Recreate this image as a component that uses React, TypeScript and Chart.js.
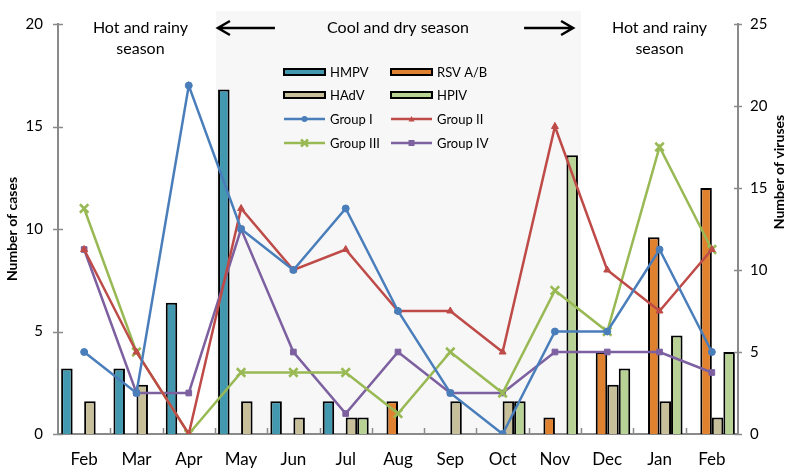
import React, { useEffect, useRef } from 'react';
import { Chart, registerables } from 'chart.js';

Chart.register(...registerables);

const MONTHS = ['Feb', 'Mar', 'Apr', 'May', 'Jun', 'Jul', 'Aug', 'Sep', 'Oct', 'Nov', 'Dec', 'Jan', 'Feb'];

// Bars (right axis: Number of viruses)
const HMPV = [4, 4, 8, 21, 2, 2, 0, 0, 0, 0, 0, 0, 0];
const RSV = [0, 0, 0, 0, 0, 0, 2, 0, 0, 1, 5, 12, 15];
const HADV = [2, 3, 0, 2, 1, 1, 0, 2, 2, 0, 3, 2, 1];
const HPIV = [0, 0, 0, 0, 0, 1, 0, 0, 2, 17, 4, 6, 5];

// Lines (left axis: Number of cases)
const GROUP_I = [4, 2, 17, 10, 8, 11, 6, 2, 0, 5, 5, 9, 4];
const GROUP_II = [9, 4, 0, 11, 8, 9, 6, 6, 4, 15, 8, 6, 9];
const GROUP_III = [11, 4, 0, 3, 3, 3, 1, 4, 2, 7, 5, 14, 9];
const GROUP_IV = [9, 2, 2, 10, 4, 1, 4, 2, 2, 4, 4, 4, 3];

const CASES_MAX = 20;
const VIRUSES_MAX = 25;
const TICK_STEP = 5;

const LEFT_TITLE = 'Number of cases';
const RIGHT_TITLE = 'Number of viruses';
const HOT_LABEL = ['Hot and rainy', 'season'];
const COOL_LABEL = 'Cool and dry season';
const COOL_FIRST = 3; // May
const COOL_LAST = 9; // Nov

const FONT = 'Lato, "Open Sans", sans-serif';
const AXIS_GRAY = '#8a8a8a';

const nz = (arr: number[]) => arr.map((v) => (v === 0 ? null : v));

function drawMarker(ctx: CanvasRenderingContext2D, style: string, x: number, y: number, r: number, color: string) {
  ctx.save();
  ctx.fillStyle = color;
  ctx.strokeStyle = color;
  ctx.beginPath();
  if (style === 'circle') {
    ctx.arc(x, y, r, 0, Math.PI * 2);
    ctx.fill();
  } else if (style === 'triangle') {
    ctx.moveTo(x, y - r);
    ctx.lineTo(x + r, y + r * 0.8);
    ctx.lineTo(x - r, y + r * 0.8);
    ctx.closePath();
    ctx.fill();
  } else if (style === 'rect') {
    ctx.fillRect(x - r, y - r, r * 2, r * 2);
  } else if (style === 'crossRot') {
    ctx.lineWidth = 2.5;
    ctx.moveTo(x - r, y - r);
    ctx.lineTo(x + r, y + r);
    ctx.moveTo(x + r, y - r);
    ctx.lineTo(x - r, y + r);
    ctx.stroke();
  }
  ctx.restore();
}

const decorPlugin = {
  id: 'decor',
  beforeDraw(chart: any) {
    const { ctx, chartArea, scales } = chart;
    const x = scales.x;
    const half = (x.getPixelForValue(1) - x.getPixelForValue(0)) / 2;
    const x0 = x.getPixelForValue(COOL_FIRST) - half;
    const x1 = x.getPixelForValue(COOL_LAST) + half;
    ctx.save();
    ctx.fillStyle = '#f7f7f7';
    ctx.fillRect(x0 + 1, chartArea.top - 13, x1 - x0 - 1, chartArea.bottom - chartArea.top + 12);
    ctx.restore();
  },
  afterDraw(chart: any) {
    const { ctx, chartArea, scales } = chart;
    const x = scales.x;
    const half = (x.getPixelForValue(1) - x.getPixelForValue(0)) / 2;
    const { left, right, top, bottom } = chartArea;

    ctx.save();
    // axis ticks
    ctx.strokeStyle = AXIS_GRAY;
    ctx.lineWidth = 1.5;
    for (let v = 0; v <= CASES_MAX; v += TICK_STEP) {
      const y = Math.round(scales.y.getPixelForValue(v)) + 0.5;
      ctx.beginPath();
      ctx.moveTo(left - 5, y);
      ctx.lineTo(left + 5, y);
      ctx.stroke();
    }
    for (let v = 0; v <= VIRUSES_MAX; v += TICK_STEP) {
      const y = Math.round(scales.y1.getPixelForValue(v)) + 0.5;
      ctx.beginPath();
      ctx.moveTo(right - 4, y);
      ctx.lineTo(right + 4, y);
      ctx.stroke();
    }
    for (let i = 1; i < MONTHS.length; i++) {
      const bx = Math.round(x.getPixelForValue(i) - half) + 0.5;
      ctx.beginPath();
      ctx.moveTo(bx, bottom);
      ctx.lineTo(bx, bottom - 6);
      ctx.stroke();
    }

    // axis titles
    ctx.fillStyle = '#000';
    ctx.font = `bold 14px ${FONT}`;
    ctx.textAlign = 'center';
    ctx.textBaseline = 'middle';
    ctx.save();
    ctx.translate(12, (top + bottom) / 2);
    ctx.rotate(-Math.PI / 2);
    ctx.fillText(LEFT_TITLE, 0, 0);
    ctx.restore();
    ctx.save();
    ctx.translate(779, top + 148);
    ctx.rotate(-Math.PI / 2);
    ctx.fillText(RIGHT_TITLE, 0, 0);
    ctx.restore();

    // season annotations
    ctx.font = `16px ${FONT}`;
    const x0 = x.getPixelForValue(COOL_FIRST) - half;
    const x1 = x.getPixelForValue(COOL_LAST) + half;
    const hx1 = x.getPixelForValue(1) + 4;
    const hx2 = x.getPixelForValue(11);
    ctx.fillText(HOT_LABEL[0], hx1, top + 4);
    ctx.fillText(HOT_LABEL[1], hx1, top + 25);
    ctx.fillText(HOT_LABEL[0], hx2, top + 4);
    ctx.fillText(HOT_LABEL[1], hx2, top + 25);
    ctx.fillText(COOL_LABEL, (x0 + x1) / 2, top + 4);

    // arrows
    ctx.strokeStyle = '#000';
    ctx.lineWidth = 2.5;
    const ay = top + 4;
    const la = x0 + 3;
    ctx.beginPath();
    ctx.moveTo(la + 57, ay);
    ctx.lineTo(la, ay);
    ctx.moveTo(la + 12, ay - 7);
    ctx.lineTo(la, ay);
    ctx.lineTo(la + 12, ay + 7);
    ctx.stroke();
    const ra = x1 - 8;
    ctx.beginPath();
    ctx.moveTo(ra - 49, ay);
    ctx.lineTo(ra, ay);
    ctx.moveTo(ra - 12, ay - 7);
    ctx.lineTo(ra, ay);
    ctx.lineTo(ra - 12, ay + 7);
    ctx.stroke();

    // legend
    const datasets = chart.data.datasets;
    const colX = [left + 226, left + 333];
    const rowY = [top + 48, top + 71, top + 95, top + 119];
    ctx.font = `13px ${FONT}`;
    ctx.textAlign = 'left';
    datasets.forEach((ds: any, i: number) => {
      const cx = colX[i % 2];
      const cy = rowY[Math.floor(i / 2)];
      if (ds.type === 'bar') {
        ctx.fillStyle = ds.backgroundColor;
        ctx.fillRect(cx, cy - 3, 41, 6);
        ctx.strokeStyle = '#000';
        ctx.lineWidth = 2;
        ctx.strokeRect(cx, cy - 3, 41, 6);
      } else {
        ctx.strokeStyle = ds.borderColor;
        ctx.lineWidth = 2.5;
        ctx.beginPath();
        ctx.moveTo(cx, cy);
        ctx.lineTo(cx + 41, cy);
        ctx.stroke();
        drawMarker(ctx, ds.pointStyle, cx + 20.5, cy, ds.pointStyle === 'crossRot' ? 3.5 : 3, ds.borderColor);
      }
      ctx.fillStyle = '#000';
      ctx.fillText(ds.label, cx + 46, cy + 1);
    });
    ctx.restore();
  },
};

export default function App() {
  const ref = useRef<HTMLCanvasElement>(null);

  useEffect(() => {
    document.body.style.margin = '0';
    Chart.defaults.font.family = FONT;
    const barCommon = {
      type: 'bar' as const,
      borderColor: '#000',
      borderWidth: 2,
      yAxisID: 'y1',
      order: 2,
      categoryPercentage: 0.88,
      barPercentage: 1,
    };
    const lineCommon = {
      type: 'line' as const,
      borderWidth: 2.5,
      yAxisID: 'y',
      order: 1,
      tension: 0,
      fill: false,
      pointBorderWidth: 1,
    };
    const chart = new Chart(ref.current!, {
      type: 'bar',
      data: {
        labels: MONTHS,
        datasets: [
          { ...barCommon, label: 'HMPV', data: nz(HMPV), backgroundColor: '#4198af' },
          { ...barCommon, label: 'RSV A/B', data: nz(RSV), backgroundColor: '#e0812f' },
          { ...barCommon, label: 'HAdV', data: nz(HADV), backgroundColor: '#c7bf99' },
          { ...barCommon, label: 'HPIV', data: nz(HPIV), backgroundColor: '#b8d295' },
          {
            ...lineCommon, label: 'Group I', data: GROUP_I, borderColor: '#4a7ebb', backgroundColor: '#4a7ebb',
            pointStyle: 'circle', pointRadius: 3.5,
          },
          {
            ...lineCommon, label: 'Group II', data: GROUP_II, borderColor: '#be4b48', backgroundColor: '#be4b48',
            pointStyle: 'triangle', pointRadius: 4,
          },
          {
            ...lineCommon, label: 'Group III', data: GROUP_III, borderColor: '#98b954', backgroundColor: '#98b954',
            pointStyle: 'crossRot', pointRadius: 6, pointBorderWidth: 2.5,
          },
          {
            ...lineCommon, label: 'Group IV', data: GROUP_IV, borderColor: '#7d60a0', backgroundColor: '#7d60a0',
            pointStyle: 'rect', pointRadius: 4,
          },
        ] as any,
      },
      options: {
        responsive: false,
        animation: false,
        layout: { padding: { top: 17, left: 0, right: 0, bottom: 0 } },
        plugins: { legend: { display: false }, tooltip: { enabled: false } },
        scales: {
          x: {
            grid: { display: false, drawTicks: false },
            border: { display: true, color: AXIS_GRAY, width: 2 },
            ticks: { color: '#000', font: { size: 17 }, padding: 15 },
            afterFit: (s: any) => { s.height = 42; },
          },
          y: {
            position: 'left',
            min: 0,
            max: CASES_MAX,
            grid: { display: false, drawTicks: false },
            border: { display: true, color: AXIS_GRAY, width: 2 },
            ticks: { stepSize: TICK_STEP, color: '#000', font: { size: 15 }, padding: 15 },
            afterFit: (s: any) => { s.width = 58; },
          },
          y1: {
            position: 'right',
            min: 0,
            max: VIRUSES_MAX,
            grid: { display: false, drawTicks: false },
            border: { display: true, color: AXIS_GRAY, width: 2 },
            ticks: { stepSize: TICK_STEP, color: '#000', font: { size: 15 }, padding: 12 },
            afterFit: (s: any) => { s.width = 57; },
          },
        },
      } as any,
      plugins: [decorPlugin],
    });
    return () => chart.destroy();
  }, []);

  return (
    <div style={{ width: 795, height: 476 }}>
      <canvas ref={ref} width={795} height={476} style={{ display: 'block' }} />
    </div>
  );
}
